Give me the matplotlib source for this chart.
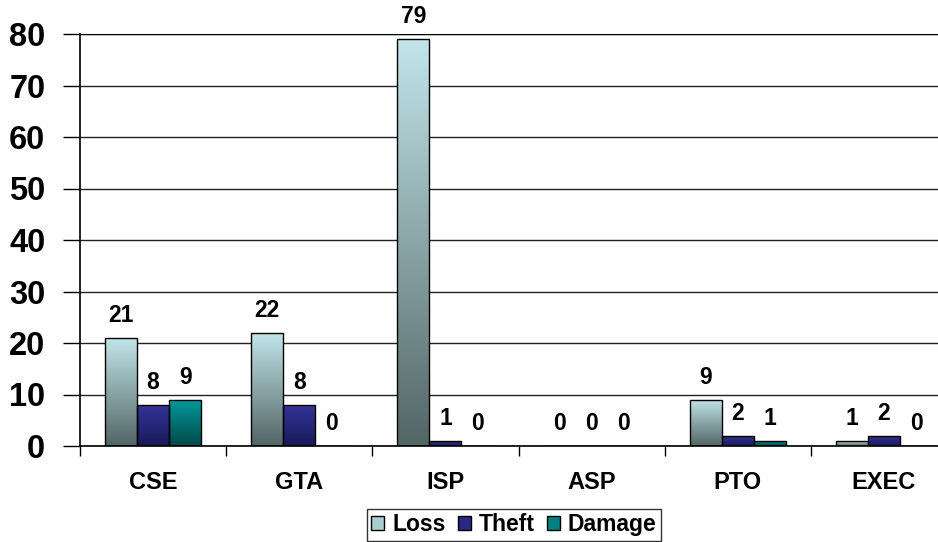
import numpy as np
import matplotlib
matplotlib.use("Agg")
import matplotlib.pyplot as plt
from matplotlib.colors import LinearSegmentedColormap
from matplotlib.patches import Patch

categories = ["CSE", "GTA", "ISP", "ASP", "PTO", "EXEC"]
loss = [21, 22, 79, 0, 9, 1]
theft = [8, 8, 1, 0, 2, 2]
damage = [9, 0, 0, 0, 1, 0]
series_names = ["Loss", "Theft", "Damage"]
y_ticks = [0, 10, 20, 30, 40, 50, 60, 70, 80]

plt.rcParams["font.family"] = ["Liberation Sans", "DejaVu Sans"]
plt.rcParams["font.weight"] = "bold"

# (top colour, bottom colour) for each series' vertical gradient
gradients = [("#c2e6ea", "#536565"), ("#34349a", "#1a1a58"), ("#009a9a", "#004848")]
legend_colors = ["#a9cdd0", "#2a2a85", "#008080"]

fig = plt.figure(figsize=(9.38, 5.42), dpi=100)
ax = fig.add_axes([80 / 938, 96 / 542, 877 / 938, 412 / 542])

n = len(categories)
x = np.arange(n)
w = 0.22
offsets = [-w, 0, w]
ax.set_xlim(-0.5, n - 0.5)
ax.set_ylim(0, 80)

ax.set_yticks(y_ticks)
ax.yaxis.grid(True, color="#222222", linewidth=1.0)
ax.set_axisbelow(True)

grad = np.linspace(1, 0, 256).reshape(-1, 1)
for vals, off, (top, bot), name in zip([loss, theft, damage], offsets, gradients, series_names):
    cmap = LinearSegmentedColormap.from_list(name, [bot, top])
    bars = ax.bar(x + off, vals, width=w, facecolor="none", edgecolor="black",
                  linewidth=1.0, zorder=3)
    for b, v in zip(bars, vals):
        if v > 0:
            x0, y0 = b.get_x(), b.get_y()
            im = ax.imshow(grad, cmap=cmap, aspect="auto", origin="upper",
                           extent=[x0, x0 + b.get_width(), y0, y0 + b.get_height()],
                           zorder=2, vmin=0, vmax=1)
            im.set_clip_path(b)
        ax.annotate(f"{v}", (b.get_x() + b.get_width() / 2, v), xytext=(0, 8),
                    textcoords="offset points", ha="center", va="bottom",
                    fontsize=16.5, fontweight="bold")

ax.set_xlim(-0.5, n - 0.5)
ax.set_ylim(0, 80)

ax.set_xticks(x)
ax.set_xticklabels(categories, fontsize=17, fontweight="bold")
ax.set_xticks(np.arange(-0.5, n, 1), minor=True)
ax.tick_params(axis="x", which="major", length=0, pad=18)
ax.tick_params(axis="x", which="minor", length=7, width=1, direction="out")
ax.tick_params(axis="y", length=12, width=1, direction="out", labelsize=23.5, pad=13)
for lbl in ax.get_yticklabels():
    lbl.set_fontweight("bold")

for s in ["top", "right"]:
    ax.spines[s].set_visible(False)
ax.spines["left"].set_linewidth(1.2)
ax.spines["bottom"].set_linewidth(1.2)
ax.axhline(80, color="black", linewidth=1.6, zorder=1)

handles = [Patch(facecolor=c, edgecolor="black", linewidth=1.0) for c in legend_colors]
leg = fig.legend(handles, series_names, loc="lower center", bbox_to_anchor=(514 / 938, 1 / 542),
                 ncol=3, frameon=True, fancybox=False, edgecolor="black",
                 prop={"weight": "bold", "size": 16.5}, handlelength=0.55, handleheight=0.55,
                 handletextpad=0.35, columnspacing=0.55, borderpad=0.2, borderaxespad=0)
leg.get_frame().set_linewidth(1.0)

fig.savefig("out.png", dpi=100)
